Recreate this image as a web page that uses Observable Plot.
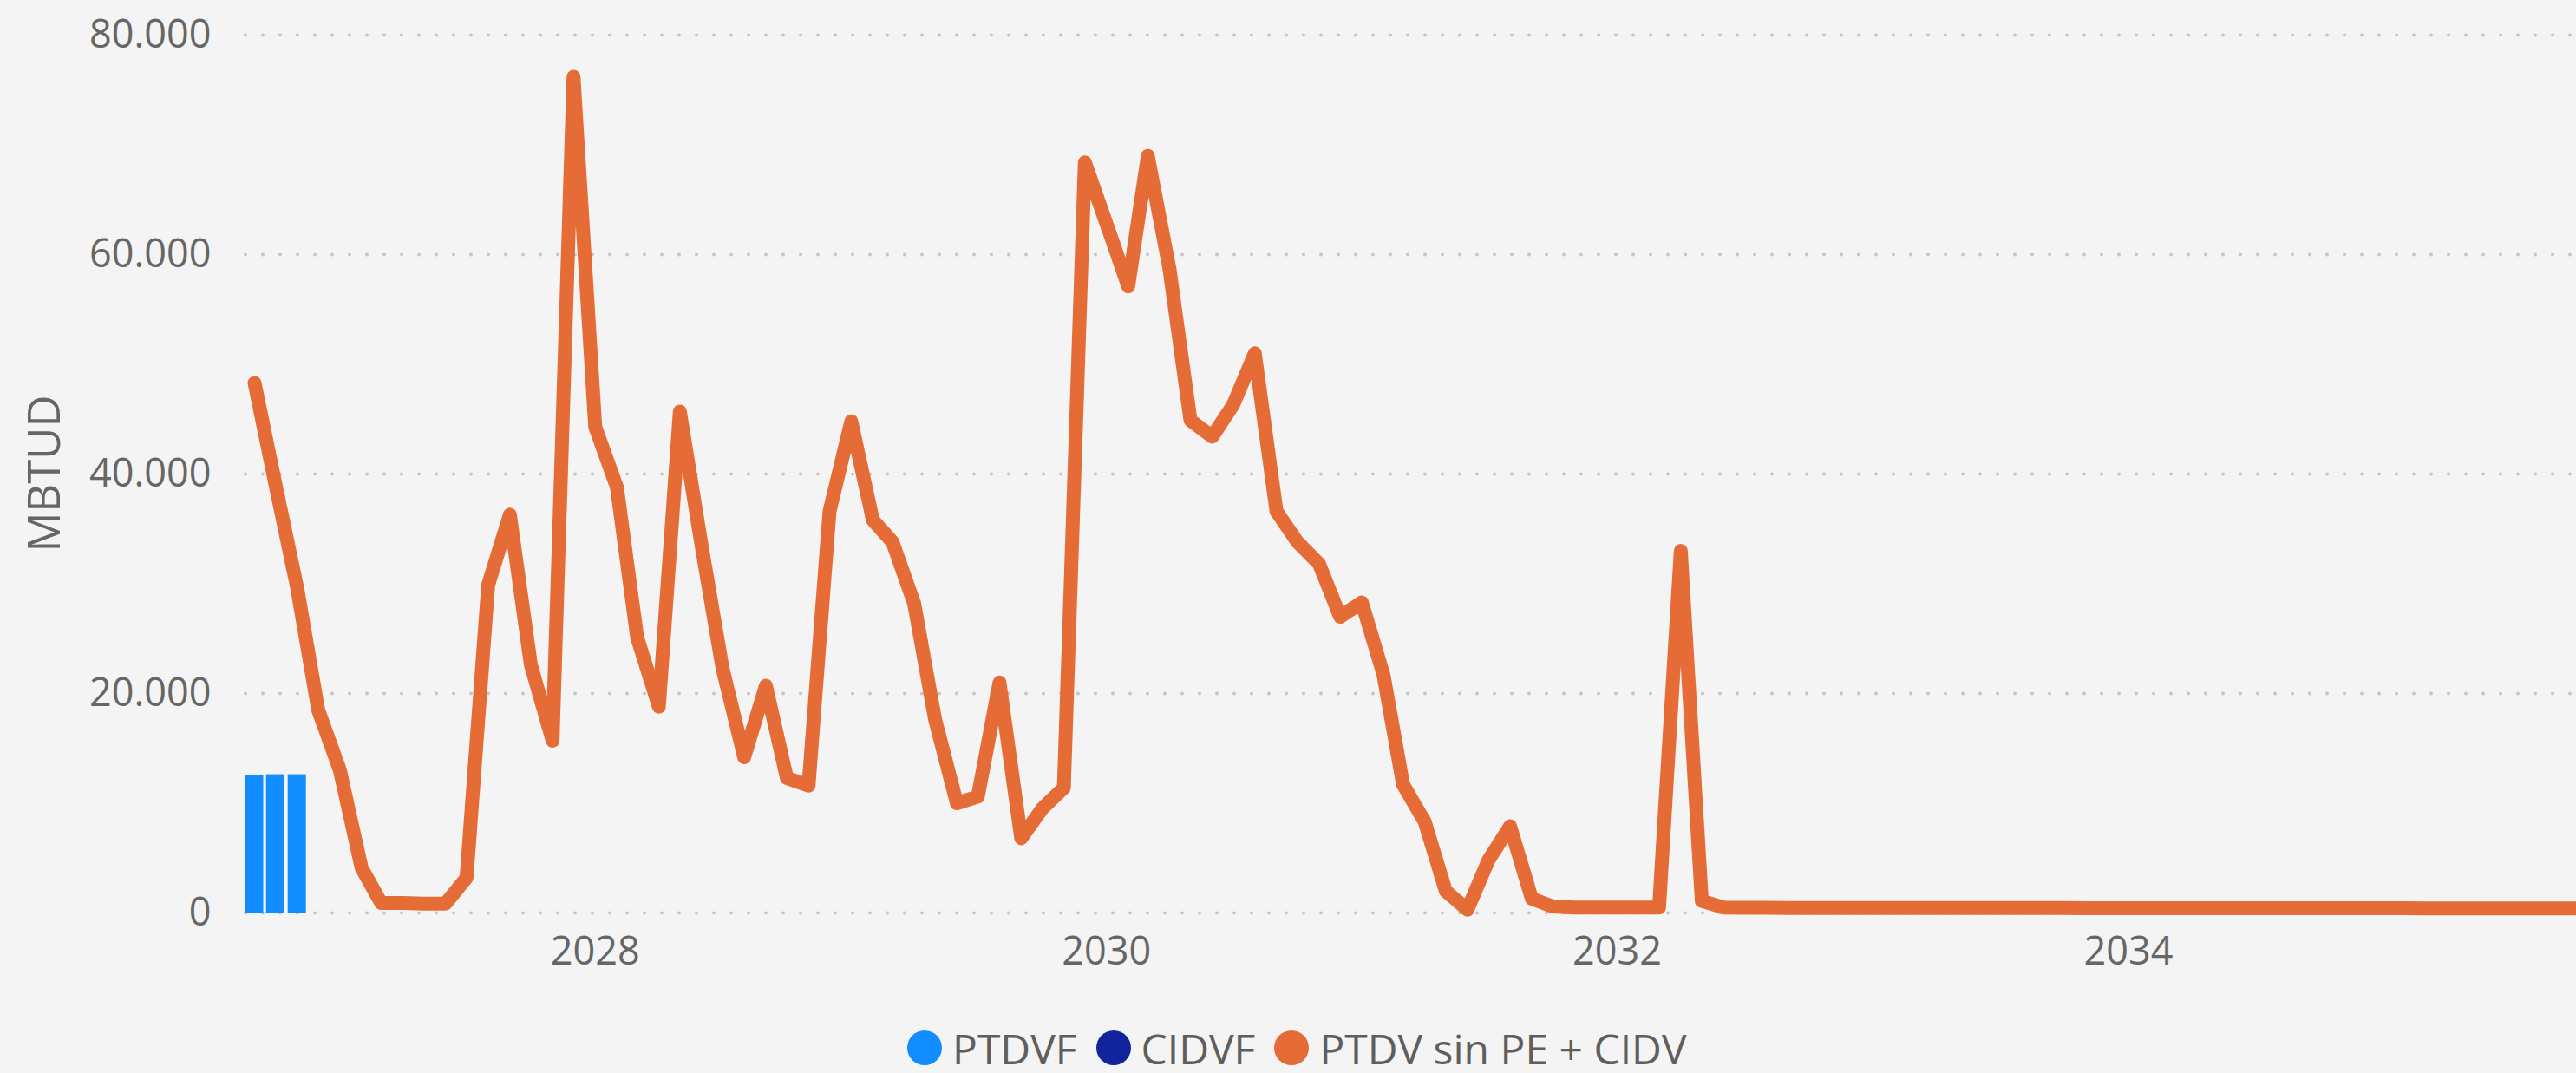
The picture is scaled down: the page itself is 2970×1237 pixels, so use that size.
<!DOCTYPE html>
<html>
<head>
<meta charset="utf-8">
<script src="https://cdn.jsdelivr.net/npm/d3@7"></script>
<script src="https://cdn.jsdelivr.net/npm/@observablehq/plot@0.6"></script>
<style>
  html, body { margin: 0; padding: 0; background: #f4f4f4; }
  body { width: 2970px; height: 1237px; overflow: hidden; position: relative;
         font-family: "Segoe UI", "Open Sans", sans-serif; }
  #chart svg { display: block; }
  #legend { position: absolute; left: 1046px; top: 1178px; height: 60px;
            display: flex; align-items: center; font-size: 48px; color: #605e5c; white-space: nowrap; }
  .item { display: flex; align-items: center; margin-right: 22px; }
  .sw { width: 40px; height: 40px; border-radius: 50%; margin-right: 12px; }
</style>
</head>
<body>
<div id="chart"></div>
<div id="legend"></div>
<script>
// ---- data ----
const firstMonth = [2026, 9];            // series starts September 2026 (monthly)
const seriesNames = ["PTDVF", "CIDVF", "PTDV sin PE + CIDV"];
const seriesColors = ["#118DFF", "#12239E", "#E66C37"];

// PTDVF (bars), first three months
const ptdvfValues = [12500, 12600, 12600];
// CIDVF (bars) – no visible values
const cidvfValues = [0, 0, 0];

// PTDV sin PE + CIDV (line), MBTUD, monthly from Sep 2026
const lineValues = [
  48300, 39000, 29600, 18500, 13000, 4100, 900, 900, 850, 850,
  3200, 29900, 36300, 22600, 15700, 76200, 44300, 38800, 25100, 18800,
  45700, 33500, 22300, 14200, 20700, 12300, 11600, 36600, 44800, 35800,
  33800, 28200, 17600, 10000, 10600, 21000, 6800, 9500, 11400, 68400,
  62800, 57100, 69000, 58700, 44900, 43400, 46300, 51000, 36600, 33800,
  31800, 27000, 28300, 21700, 11700, 8300, 2000, 300, 4800, 7900,
  1300, 600, 500, 500, 500, 500, 500, 33000, 1100, 500,
  480, 470, 460, 460, 450, 450, 450, 450, 450, 450,
  450, 450, 450, 450, 450, 450, 440, 440, 440, 440,
  440, 440, 440, 440, 430, 430, 430, 430, 430, 430,
  430, 430, 420, 420, 420, 420, 420, 420, 420, 420
];

const yTicks = [0, 20000, 40000, 60000, 80000];
const xTickYears = [2028, 2030, 2032, 2034];
const yLabel = "MBTUD";

// ---- build tables ----
const monthDate = i => new Date(firstMonth[0], firstMonth[1] - 1 + i, 1);
const lineData = lineValues.map((v, i) => ({date: monthDate(i), value: v}));
const barData = ptdvfValues.map((v, i) => ({date: monthDate(i), ptdvf: v, cidvf: cidvfValues[i]}));
const xStart = d3.timeHour.offset(monthDate(0), -298);
const xEnd = monthDate(lineValues.length - 1);

const fmt = d3.formatLocale({decimal: ",", thousands: ".", grouping: [3], currency: ["", ""]}).format(",.0f");

const chart = Plot.plot({
  width: 2970,
  height: 1150,
  marginTop: 40,
  marginBottom: 98,
  marginLeft: 283,
  marginRight: 2,
  style: {background: "transparent", fontFamily: "'Segoe UI', 'Open Sans', sans-serif", fontSize: "45px", color: "#666666"},
  x: {type: "time", domain: [xStart, xEnd]},
  y: {domain: [0, 80000]},
  marks: [
    Plot.gridY(yTicks, {stroke: "#c6c6c6", strokeOpacity: 1, strokeWidth: 4, strokeDasharray: "0 20", strokeLinecap: "round"}),
    Plot.rectY(barData, {
      x1: d => d3.timeDay.offset(d.date, -14), x2: d => d3.timeDay.offset(d.date, 14),
      y1: 0, y2: "ptdvf", fill: seriesColors[0], insetLeft: 0.8, insetRight: 0.8
    }),
    Plot.rectY(barData.filter(d => d.cidvf > 0), {
      x1: d => d3.timeDay.offset(d.date, -14), x2: d => d3.timeDay.offset(d.date, 14),
      y1: "ptdvf", y2: d => d.ptdvf + d.cidvf, fill: seriesColors[1], insetLeft: 0.8, insetRight: 0.8
    }),
    Plot.line(lineData, {x: "date", y: "value", stroke: seriesColors[2], strokeWidth: 16,
      strokeLinejoin: "round", strokeLinecap: "round"}),
    Plot.axisY({ticks: yTicks, tickSize: 0, tickPadding: 40, tickFormat: fmt, label: null}),
    Plot.axisX({ticks: xTickYears.map(y => new Date(y, 0, 1)), tickSize: 0, tickPadding: 28,
      tickFormat: d3.timeFormat("%Y"), label: null})
  ]
});

d3.select(chart).append("text")
  .attr("transform", "translate(49,546) rotate(-90)")
  .attr("text-anchor", "middle")
  .attr("dominant-baseline", "central")
  .attr("fill", "#666666")
  .attr("font-size", "51px")
  .text(yLabel);

document.getElementById("chart").appendChild(chart);

const legend = d3.select("#legend");
seriesNames.forEach((name, i) => {
  const item = legend.append("div").attr("class", "item");
  item.append("div").attr("class", "sw").style("background", seriesColors[i]);
  item.append("span").text(name);
});
</script>
</body>
</html>
